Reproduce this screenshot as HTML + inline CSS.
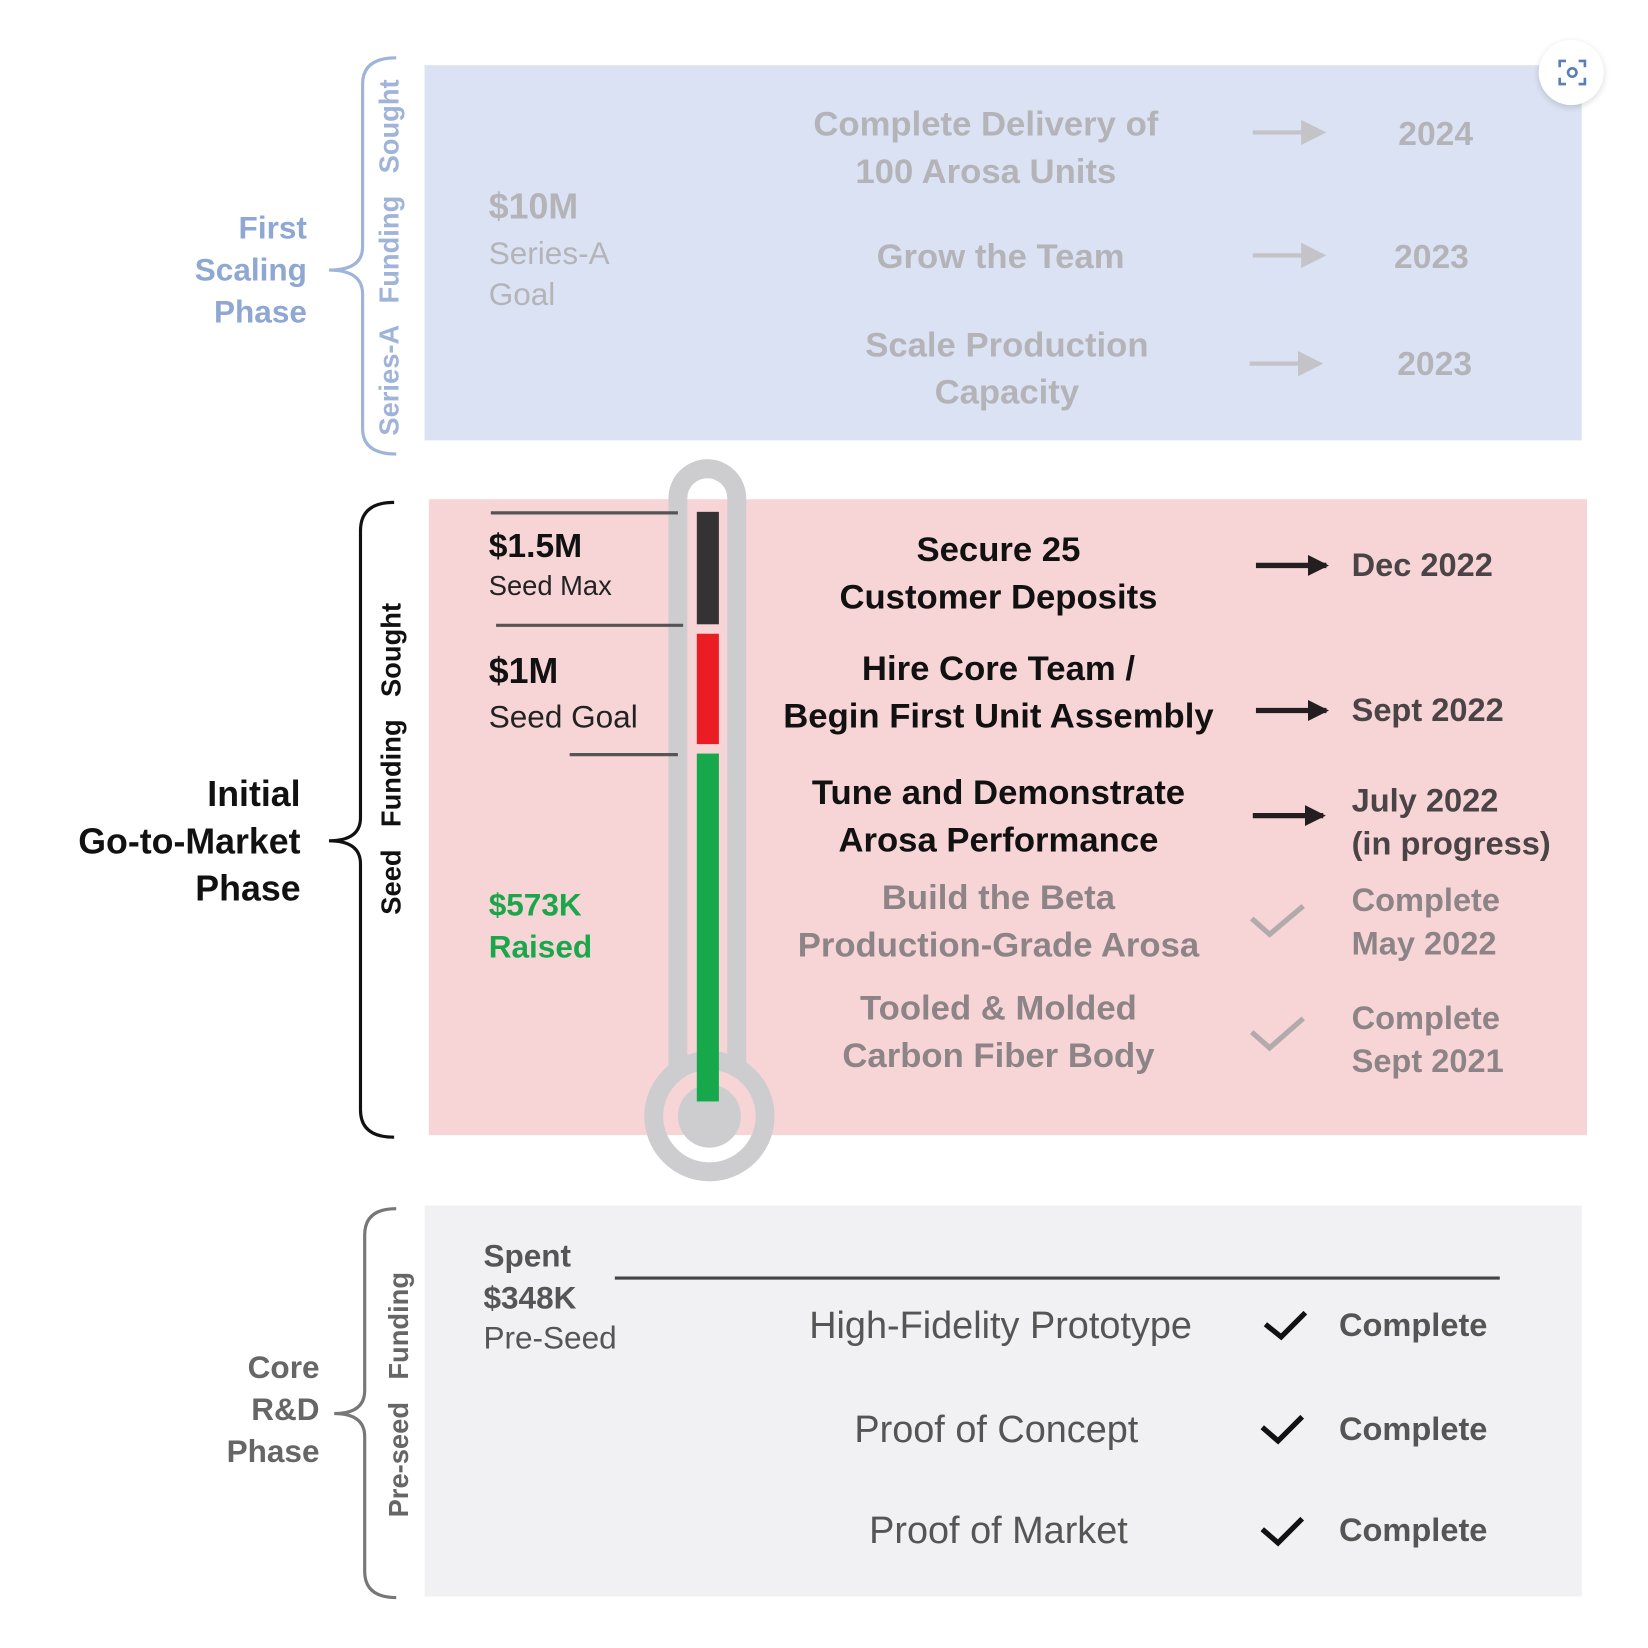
<!DOCTYPE html>
<html><head><meta charset="utf-8"><style>
html,body{margin:0;padding:0;background:#fff;}
#wrap{position:relative;width:1648px;height:1648px;overflow:hidden;background:#fff;}
#s{position:absolute;left:0;top:0;width:1568px;height:1568px;transform:scale(1.051);transform-origin:0 0;font-family:"Liberation Sans",sans-serif;}
.t{position:absolute;white-space:nowrap;line-height:1;}
.c{transform:translateX(-50%);text-align:center;}
.r{text-align:right;}
.b{font-weight:bold;}
.v{position:absolute;transform:translate(-50%,-50%) rotate(-90deg);white-space:nowrap;font-weight:bold;line-height:1;}
</style></head><body><div id="wrap"><div id="s">
<div style="position:absolute;left:404px;top:62px;width:1101px;height:357px;background:#dae2f3"></div>
<div style="position:absolute;left:408px;top:475px;width:1102px;height:605px;background:#f7d5d7"></div>
<div style="position:absolute;left:404px;top:1147px;width:1101px;height:372px;background:#f1f1f3"></div>
<div style="position:absolute;left:1464px;top:38px;width:62px;height:62px;border-radius:50%;background:#fff;box-shadow:0 2px 6px rgba(0,0,0,0.15)"></div>

<svg width="1568" height="1568" style="position:absolute;left:0;top:0">
<defs>
<marker id="ag" markerWidth="6" markerHeight="6" refX="5" refY="3" orient="auto" markerUnits="strokeWidth"><path d="M0,0 L6,3 L0,6 z" fill="#c4c4c8"/></marker>
<marker id="ak" markerWidth="4" markerHeight="4" refX="3.5" refY="2" orient="auto" markerUnits="strokeWidth"><path d="M0,0 L4,2 L0,4 z" fill="#231f20"/></marker>
</defs>
<path d="M377,55 Q345,55 345,80 L345,235 Q345,257 313,257 Q345,257 345,280 L345,408 Q345,432 377,432" fill="none" stroke="#9fb4d8" stroke-width="3"/>
<path d="M375,478 Q343,478 343,505 L343,778 Q343,800 313,800 Q343,800 343,822 L343,1056 Q343,1082 375,1082" fill="none" stroke="#111" stroke-width="3"/>
<path d="M377,1150 Q347,1150 347,1175 L347,1323 Q347,1345 318,1345 Q347,1345 347,1367 L347,1495 Q347,1520 377,1520" fill="none" stroke="#777" stroke-width="3"/>
<line x1="1192" y1="126" x2="1258" y2="126" stroke="#c4c4c8" stroke-width="4" marker-end="url(#ag)"/>
<line x1="1192" y1="243" x2="1258" y2="243" stroke="#c4c4c8" stroke-width="4" marker-end="url(#ag)"/>
<line x1="1189" y1="346" x2="1255" y2="346" stroke="#c4c4c8" stroke-width="4" marker-end="url(#ag)"/>
<line x1="1195" y1="538" x2="1262" y2="538" stroke="#231f20" stroke-width="5" marker-end="url(#ak)"/>
<line x1="1195" y1="676" x2="1262" y2="676" stroke="#231f20" stroke-width="5" marker-end="url(#ak)"/>
<line x1="1192" y1="776" x2="1259" y2="776" stroke="#231f20" stroke-width="5" marker-end="url(#ak)"/>
<path d="M1191,874 L1208,889 L1240,862" fill="none" stroke="#b2aaac" stroke-width="5"/>
<path d="M1191,982 L1208,997 L1240,969" fill="none" stroke="#b2aaac" stroke-width="5"/>
<path d="M1204,1260 L1219,1272 L1242,1249" fill="none" stroke="#111" stroke-width="5"/>
<path d="M1201,1358 L1216,1371 L1239,1348" fill="none" stroke="#111" stroke-width="5"/>
<path d="M1201,1455 L1216,1468 L1239,1445" fill="none" stroke="#111" stroke-width="5"/>
<path d="M645,1018 L645,474 A28,28 0 0 1 701,474 L701,1018" fill="none" stroke="#cdcdcf" stroke-width="18"/>
<circle cx="675" cy="1062" r="53" fill="none" stroke="#cdcdcf" stroke-width="18"/>
<circle cx="675" cy="1062" r="30" fill="#cdcdcf"/>
<rect x="663" y="487" width="21" height="107" fill="#343233"/>
<rect x="663" y="603" width="21" height="105" fill="#ea1c24"/>
<rect x="663" y="717" width="21" height="331" fill="#17a84b"/>
<line x1="467" y1="488" x2="645" y2="488" stroke="#555" stroke-width="3"/>
<line x1="472" y1="595" x2="650" y2="595" stroke="#555" stroke-width="3"/>
<line x1="542" y1="718" x2="645" y2="718" stroke="#555" stroke-width="3"/>
<line x1="585" y1="1216" x2="1427" y2="1216" stroke="#444" stroke-width="3"/>
<path d="M1484,64 v-6 h6 M1502,58 h6 v6 M1508,74 v6 h-6 M1490,80 h-6 v-6" fill="none" stroke="#5a7fb6" stroke-width="2.5"/>
<circle cx="1496" cy="69" r="4" fill="none" stroke="#5a7fb6" stroke-width="2.5"/>
</svg>

<div class="t r b" style="right:1276px;top:198px;font-size:30px;line-height:40px;color:#8ea7d3">First<br>Scaling<br>Phase</div>
<div class="t r b" style="right:1282px;top:734px;font-size:34px;line-height:45px;color:#111">Initial<br>Go-to-Market<br>Phase</div>
<div class="t r b" style="right:1264px;top:1282px;font-size:30px;line-height:40px;color:#666">Core<br>R&amp;D<br>Phase</div>

<div class="v" style="left:370px;top:245px;font-size:26px;color:#9fb4d8;word-spacing:14px">Series-A Funding Sought</div>
<div class="v" style="left:372px;top:722px;font-size:26px;color:#111;word-spacing:14px">Seed Funding Sought</div>
<div class="v" style="left:379px;top:1327px;font-size:26px;color:#666;word-spacing:14px">Pre-seed Funding</div>

<div class="t b" style="left:465px;top:180px;font-size:34px;color:#b4b4b8">$10M</div>
<div class="t" style="left:465px;top:222px;font-size:30px;line-height:39px;color:#b4b4b8">Series-A<br>Goal</div>
<div class="t c b" style="left:938px;top:95px;font-size:33px;line-height:45px;color:#b4b4b8">Complete Delivery of<br>100 Arosa Units</div>
<div class="t c b" style="left:952px;top:227px;font-size:33px;color:#b4b4b8">Grow the Team</div>
<div class="t c b" style="left:958px;top:305px;font-size:33px;line-height:45px;color:#b4b4b8">Scale Production<br>Capacity</div>
<div class="t c b" style="left:1366px;top:111px;font-size:32px;color:#b4b4b8">2024</div>
<div class="t c b" style="left:1362px;top:228px;font-size:32px;color:#b4b4b8">2023</div>
<div class="t c b" style="left:1365px;top:330px;font-size:32px;color:#b4b4b8">2023</div>

<div class="t b" style="left:465px;top:503px;font-size:32px;color:#111">$1.5M</div>
<div class="t" style="left:465px;top:544px;font-size:26px;color:#222">Seed Max</div>
<div class="t b" style="left:465px;top:622px;font-size:34px;color:#111">$1M</div>
<div class="t" style="left:465px;top:668px;font-size:30px;color:#222">Seed Goal</div>
<div class="t b" style="left:465px;top:842px;font-size:30px;line-height:40px;color:#1aa64a">$573K<br>Raised</div>

<div class="t c b" style="left:950px;top:500px;font-size:33px;line-height:45px;color:#111">Secure 25<br>Customer Deposits</div>
<div class="t c b" style="left:950px;top:613px;font-size:33px;line-height:45px;color:#111">Hire Core Team /<br>Begin First Unit Assembly</div>
<div class="t c b" style="left:950px;top:731px;font-size:33px;line-height:45px;color:#111">Tune and Demonstrate<br>Arosa Performance</div>
<div class="t c b" style="left:950px;top:831px;font-size:33px;line-height:45px;color:#8c8486">Build the Beta<br>Production-Grade Arosa</div>
<div class="t c b" style="left:950px;top:936px;font-size:33px;line-height:45px;color:#8c8486">Tooled &amp; Molded<br>Carbon Fiber Body</div>

<div class="t b" style="left:1286px;top:522px;font-size:31px;color:#4a4446">Dec 2022</div>
<div class="t b" style="left:1286px;top:660px;font-size:31px;color:#4a4446">Sept 2022</div>
<div class="t b" style="left:1286px;top:741px;font-size:31px;line-height:41px;color:#4a4446">July 2022<br>(in progress)</div>
<div class="t b" style="left:1286px;top:836px;font-size:31px;line-height:41px;color:#8c8486">Complete<br>May 2022</div>
<div class="t b" style="left:1286px;top:948px;font-size:31px;line-height:41px;color:#8c8486">Complete<br>Sept 2021</div>

<div class="t b" style="left:460px;top:1176px;font-size:30px;line-height:40px;color:#555">Spent<br>$348K</div>
<div class="t" style="left:460px;top:1259px;font-size:30px;color:#555">Pre-Seed</div>
<div class="t c" style="left:952px;top:1243px;font-size:36px;color:#555">High-Fidelity Prototype</div>
<div class="t c" style="left:948px;top:1342px;font-size:36px;color:#555">Proof of Concept</div>
<div class="t c" style="left:950px;top:1438px;font-size:36px;color:#555">Proof of Market</div>
<div class="t b" style="left:1274px;top:1245px;font-size:31px;color:#555">Complete</div>
<div class="t b" style="left:1274px;top:1344px;font-size:31px;color:#555">Complete</div>
<div class="t b" style="left:1274px;top:1440px;font-size:31px;color:#555">Complete</div>
</div></div></body></html>
